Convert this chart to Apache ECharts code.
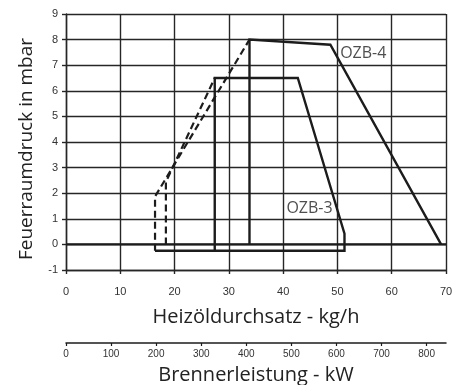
<!DOCTYPE html>
<html>
<head>
<meta charset="utf-8">
<script src="https://cdn.jsdelivr.net/npm/echarts@6/dist/echarts.min.js"></script>
<style>
  html, body { margin: 0; padding: 0; background: #fff; }
  #chart { width: 458px; height: 385px; }
</style>
</head>
<body>
<div id="chart"></div>
<script>
// Oil throughput (kg/h) vs. combustion chamber pressure (mbar)
const yTicks = { min: -1, max: 9, interval: 1 };
const xTicks = { min: 0, max: 70, interval: 10 };
const kwTicks = { min: 0, max: 843, interval: 100 };

// Working field outlines, [kg/h, mbar]
const ozb3Outline = [[16.4, -0.25], [51.3, -0.25], [51.3, 0.42], [42.7, 6.5], [27.4, 6.5], [27.4, -0.25]];
const ozb4Outline = [[33.8, 0], [33.8, 8], [48.7, 7.8], [69.1, 0]];
const zeroLine = [[0, 0], [70, 0]];

// Start-up ramps (dashed)
const rampToOzb3 = [[18.4, 0], [18.4, 2.44], [27.4, 6.5]];
const rampToOzb4 = [[16.4, -0.25], [16.4, 1.87], [33.8, 8]];

// Field labels
const fieldLabels = [
  { name: 'OZB-4', value: [50.5, 7.45] },
  { name: 'OZB-3', value: [40.6, 1.42] }
];

const ink = '#1c1c1c';
const gridInk = '#262626';
const tickFont = { fontFamily: 'Liberation Sans', fontSize: 11, color: '#333' };
const xTitleFont = { fontFamily: 'Open Sans', fontSize: 20, color: '#222' };
const yTitleFont = { fontFamily: 'Open Sans', fontSize: 19, color: '#222', padding: [0, 14, 0, 0] };

const solid = (name, data) => ({
  name, type: 'line', data, symbol: 'none', silent: true,
  lineStyle: { color: ink, width: 2.4, join: 'miter' }, z: 3
});
const dashed = (name, data) => ({
  name, type: 'line', data, symbol: 'none', silent: true,
  lineStyle: { color: ink, width: 2.2, type: [7, 4] }, z: 3
});

const chart = echarts.init(document.getElementById('chart'), null, { renderer: 'canvas' });
chart.setOption({
  animation: false,
  backgroundColor: '#fff',
  grid: { left: 66, right: 12, top: 14, bottom: 115, containLabel: false, outerBoundsMode: 'none' },
  xAxis: [
    {
      type: 'value', min: xTicks.min, max: xTicks.max, interval: xTicks.interval,
      name: 'Heizöldurchsatz - kg/h', nameLocation: 'middle', nameGap: 37,
      nameTextStyle: xTitleFont,
      axisLine: { show: true, onZero: false, lineStyle: { color: gridInk, width: 1.4 } },
      axisTick: { show: true, inside: false, length: 4, lineStyle: { color: gridInk, width: 1.4 } },
      axisLabel: Object.assign({ margin: 16 }, tickFont),
      splitLine: { show: true, lineStyle: { color: gridInk, width: 1.4 } }
    },
    {
      type: 'value', position: 'bottom', offset: 73,
      min: kwTicks.min, max: kwTicks.max, interval: kwTicks.interval,
      name: 'Brennerleistung - kW', nameLocation: 'middle', nameGap: 22,
      nameTextStyle: xTitleFont,
      axisLine: { show: true, onZero: false, lineStyle: { color: ink, width: 1.5 } },
      axisTick: { show: true, inside: false, length: 3, lineStyle: { color: ink, width: 1.2 } },
      axisLabel: Object.assign({ margin: 6, showMaxLabel: false }, tickFont, { fontSize: 10 }),
      splitLine: { show: false }
    }
  ],
  yAxis: {
    type: 'value', min: yTicks.min, max: yTicks.max, interval: yTicks.interval,
    name: 'Feuerraumdruck in mbar', nameLocation: 'middle', nameGap: 30, nameRotate: 90,
    nameTextStyle: yTitleFont,
    axisLine: { show: true, onZero: false, lineStyle: { color: gridInk, width: 1.4 } },
    axisTick: { show: true, inside: false, length: 4, lineStyle: { color: gridInk, width: 1.4 } },
    axisLabel: Object.assign({ margin: 8 }, tickFont),
    splitLine: { show: true, lineStyle: { color: gridInk, width: 1.4 } }
  },
  series: [
    solid('Nulllinie', zeroLine),
    solid('OZB-3', ozb3Outline),
    solid('OZB-4', ozb4Outline),
    dashed('OZB-3 Anlauf', rampToOzb3),
    dashed('OZB-4 Anlauf', rampToOzb4),
    {
      name: 'Bezeichnung', type: 'scatter', data: fieldLabels, symbolSize: 0, silent: true, z: 4,
      label: {
        show: true, position: 'right', distance: 0, formatter: '{b}',
        fontFamily: 'Open Sans', fontSize: 16, color: '#222'
      }
    }
  ]
});
</script>
</body>
</html>
